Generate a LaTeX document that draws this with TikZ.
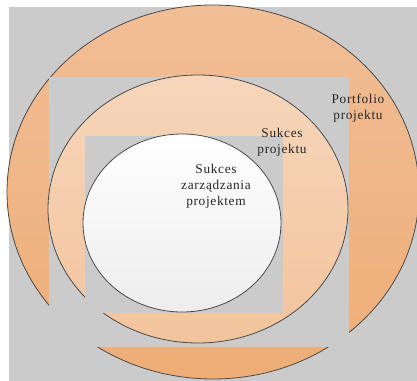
\documentclass[tikz,border=0pt]{standalone}
\usepackage{fontspec}
\setmainfont{Liberation Serif}[LetterSpace=5]
\definecolor{panel}{HTML}{CBCBCB}
\definecolor{rimline}{HTML}{4A4A4A}
\definecolor{outerTop}{HTML}{F1BE96}
\definecolor{outerBot}{HTML}{EEAD76}
\definecolor{midTop}{HTML}{F7D6BB}
\definecolor{midBot}{HTML}{F2C49D}
\definecolor{innTop}{HTML}{FFFFFF}
\definecolor{innBot}{HTML}{EDEDED}
\definecolor{ink}{HTML}{262626}
\tikzset{
  rim/.style={draw=rimline, line width=0.6pt},
  cutout/.style={fill=panel, draw=none},
  caption/.style={text=ink, align=center, font=\fontsize{10}{12}\selectfont, inner sep=0pt}
}
\begin{document}
\begin{tikzpicture}[x=0.75pt,y=-0.75pt]
\useasboundingbox (0,0) rectangle (417,381);
\clip (0,0) rectangle (417,381);
\fill[white] (0,0) rectangle (417,381);
\fill[panel] (9,7) rectangle (417,381);
% portfolio ring
\shade[top color=outerTop, bottom color=outerBot] (213,192) ellipse [x radius=206, y radius=187];
\draw[rim] (213,192) ellipse [x radius=206, y radius=187];
\fill[cutout] (49,77) rectangle (349,347);
% project ring
\shade[top color=midTop, bottom color=midBot] (198,209) ellipse [x radius=150, y radius=134];
\draw[rim] (198,209) ellipse [x radius=150, y radius=134];
\fill[cutout] (85,136) rectangle (283,313);
% project management core
\shade[top color=innTop, bottom color=innBot] (182,223) ellipse [x radius=99, y radius=89];
\draw[rim] (182,223) ellipse [x radius=99, y radius=89];
% labels
\node[caption] (portfolio) at (358,108) {Portfolio\\projektu};
\node[caption] (projekt) at (282,142) {Sukces\\projektu};
\node[caption] (zarzadzanie) at (216,186) {Sukces\\zarządzania\\projektem};
\end{tikzpicture}
\end{document}
